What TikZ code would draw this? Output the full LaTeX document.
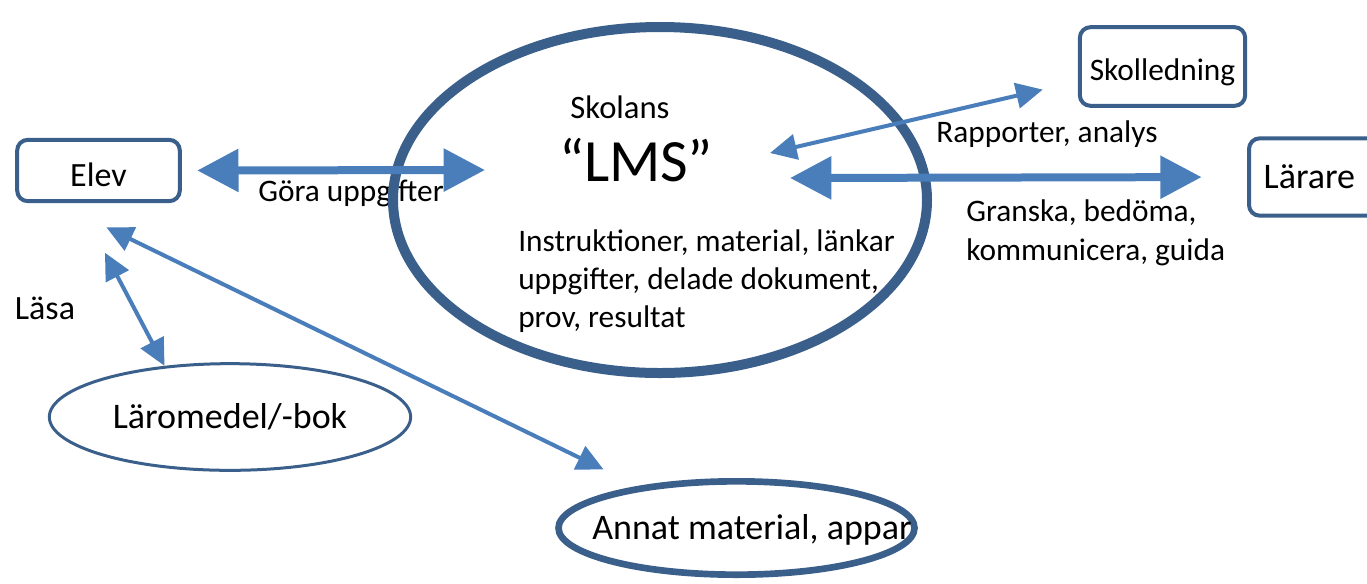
\documentclass[tikz,border=0pt]{standalone}
\usepackage{fontspec}
\setmainfont{Carlito}
\usetikzlibrary{arrows.meta,shapes.geometric}
\definecolor{edgeblue}{HTML}{3A5F8B}
\definecolor{flowblue}{HTML}{4A7EBB}
\newcommand{\fsmall}{\fontsize{23.5pt}{28.5pt}\selectfont}
\newcommand{\fmid}{\fontsize{25.5pt}{30pt}\selectfont}
\newcommand{\fbig}{\fontsize{27pt}{32pt}\selectfont}
\tikzset{
  actor/.style={
    draw=edgeblue,
    line width=3pt,
    rounded corners=8pt,
    align=center,
    font=\fmid
  },
  oval/.style={
    draw=edgeblue,
    ellipse,
    inner sep=0pt,
    align=center,
    font=\fbig
  },
  lbl/.style={
    inner sep=0pt,
    align=left,
    font=\fsmall
  },
  bigflow/.style={
    {Triangle[length=31pt,width=31pt]}-{Triangle[length=31pt,width=31pt]},
    draw=flowblue,
    line width=6pt
  },
  flow/.style={
    {Triangle[length=20pt,width=19pt]}-{Triangle[length=20pt,width=19pt]},
    draw=flowblue,
    line width=3pt
  }
}

\begin{document}
\begin{tikzpicture}[x=0.75pt,y=-0.75pt]
  \useasboundingbox (0,0) rectangle (1367,583);

  % actors
  \node[actor, text height=24pt, text depth=0pt, minimum width=122pt, minimum height=46pt] (elev) at (98.5,170.5) {Elev};
  \node[actor, font=\fsmall, text height=26pt, text depth=5pt, minimum width=124pt, minimum height=59pt] (skolledning) at (1162.5,66.5) {Skolledning};
  \node[actor, font=\fbig, anchor=west, align=left, text width=150pt, inner xsep=11pt, minimum height=58pt] (larare) at (1247,177) {Lärare};

  % label under the ellipse border
  \node[lbl] (gora) at (351,193) {Göra uppgifter};

  % the school LMS
  \node[oval, line width=7.5pt, minimum width=400.5pt, minimum height=259.5pt] (lms) at (660,200) {};
  \node[lbl, font=\fontsize{24.5pt}{29pt}\selectfont] (skolans) at (620,107) {Skolans};
  \node[lbl, font=\fontsize{45pt}{50pt}\selectfont] (lmsname) at (636,160) {“LMS”};
  \node[lbl, anchor=west] (innehall) at (518,281.5) {Instruktioner, material, länkar\\uppgifter, delade dokument,\\prov, resultat};

  % materials
  \node[oval, line width=2.25pt, minimum width=271pt, minimum height=80pt] (laromedel) at (230,417) {Läromedel/-bok};
  \node[oval, line width=5pt, minimum width=267pt, minimum height=70pt] (annat) at (736.5,528) {};
  \node[lbl, font=\fbig] (annattext) at (752,530) {Annat material, appar};

  % labels
  \node[lbl, font=\fmid] (lasa) at (45,308) {Läsa};
  \node[lbl] (rapporter) at (1047,134) {Rapporter, analys};
  \node[lbl, anchor=west, font=\fontsize{23.5pt}{29.5pt}\selectfont] (granska) at (966,233) {Granska, bedöma,\\kommunicera, guida};

  % arrow ends inside the LMS
  \coordinate (lmsL) at (485,170);
  \coordinate (lmsR) at (790,178);
  \coordinate (lmsS) at (770,153);

  \draw[bigflow, shorten <=11.5pt] (elev.east) -- (lmsL);
  \draw[bigflow, shorten >=34pt] (lmsR) -- (larare.west);
  \draw[flow, shorten >=27pt] (lmsS) -- (skolledning.190);
  \draw[flow, shorten <=42pt] (elev.239) -- (laromedel.142);
  \draw[flow, shorten <=41.5pt, shorten >=28.5pt] (elev.218) -- (annat.157);
\end{tikzpicture}
\end{document}
